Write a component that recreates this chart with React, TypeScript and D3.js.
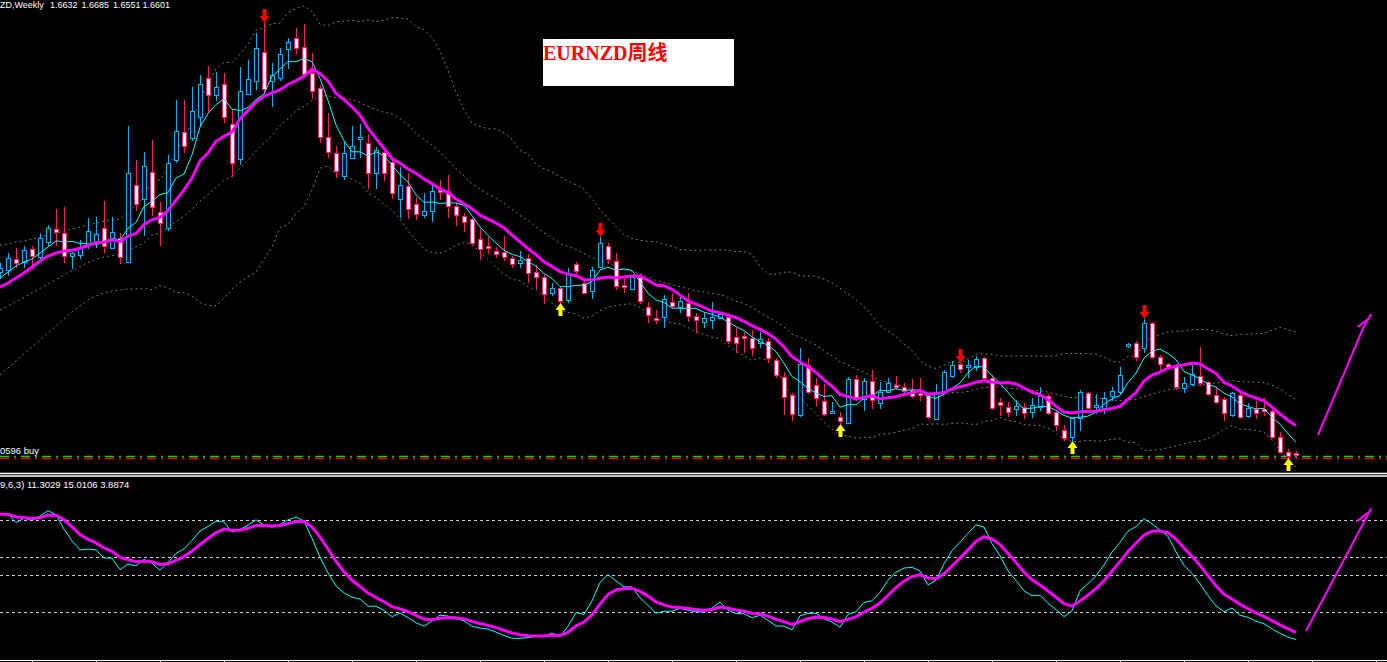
import React, { useEffect, useRef } from 'react';
import * as d3 from 'd3';

// weekly candles, EURNZD
const opens = [
  2.026, 2.03, 2.052, 2.046, 2.072, 2.056, 2.086, 2.112, 2.104, 2.058,
  2.06, 2.08, 2.084, 2.114, 2.074, 2.094, 2.046, 2.2, 2.172, 2.226,
  2.146, 2.114, 2.25, 2.306, 2.294, 2.336, 2.414, 2.38, 2.402, 2.322,
  2.252, 2.382, 2.408, 2.466, 2.408, 2.414, 2.472, 2.494, 2.476, 2.424,
  2.394, 2.296, 2.264, 2.218, 2.254, 2.292, 2.284, 2.224, 2.266, 2.246,
  2.172, 2.198, 2.162, 2.14, 2.148, 2.19, 2.188, 2.158, 2.138, 2.132,
  2.092, 2.078, 2.068, 2.066, 2.054, 2.044, 2.054, 2.026, 2.016, 1.984,
  1.994, 1.97, 2.042, 2.004, 1.988, 2.036, 2.078, 2.048, 2.0, 1.992,
  2.016, 1.956, 1.934, 1.936, 1.966, 1.956, 1.964, 1.938, 1.926, 1.93,
  1.934, 1.936, 1.896, 1.898, 1.894, 1.884, 1.888, 1.85, 1.816, 1.78,
  1.74, 1.84, 1.8, 1.768, 1.744, 1.736, 1.724, 1.812, 1.772, 1.808,
  1.764, 1.786, 1.8, 1.796, 1.79, 1.784, 1.78, 1.732, 1.786, 1.818,
  1.842, 1.836, 1.836, 1.854, 1.814, 1.766, 1.756, 1.752, 1.756, 1.746,
  1.756, 1.778, 1.746, 1.71, 1.696, 1.734, 1.784, 1.756, 1.754, 1.778,
  1.786, 1.878, 1.884, 1.874, 1.924, 1.856, 1.842, 1.838, 1.794, 1.802,
  1.818, 1.806, 1.78, 1.772, 1.74, 1.78, 1.738, 1.752, 1.752, 1.748,
  1.696, 1.666, 1.6632,
];
const highs = [
  2.044, 2.064, 2.074, 2.078, 2.078, 2.104, 2.12, 2.152, 2.156, 2.066,
  2.09, 2.134, 2.136, 2.168, 2.136, 2.104, 2.318, 2.25, 2.266, 2.29,
  2.166, 2.26, 2.37, 2.37, 2.396, 2.42, 2.438, 2.426, 2.424, 2.35,
  2.436, 2.45, 2.504, 2.524, 2.444, 2.474, 2.494, 2.514, 2.522, 2.464,
  2.4, 2.344, 2.278, 2.286, 2.318, 2.322, 2.302, 2.276, 2.276, 2.256,
  2.236, 2.224, 2.176, 2.184, 2.204, 2.21, 2.22, 2.166, 2.144, 2.134,
  2.112, 2.096, 2.076, 2.098, 2.058, 2.068, 2.062, 2.04, 2.02, 2.004,
  1.996, 2.034, 2.046, 2.01, 2.036, 2.096, 2.084, 2.064, 2.016, 2.02,
  2.02, 1.966, 1.95, 1.98, 1.984, 1.976, 1.984, 1.944, 1.946, 1.966,
  1.944, 1.944, 1.914, 1.906, 1.91, 1.906, 1.894, 1.854, 1.826, 1.784,
  1.874, 1.854, 1.814, 1.802, 1.766, 1.746, 1.816, 1.82, 1.814, 1.83,
  1.806, 1.814, 1.818, 1.804, 1.812, 1.814, 1.784, 1.802, 1.83, 1.848,
  1.844, 1.85, 1.858, 1.856, 1.82, 1.774, 1.766, 1.77, 1.764, 1.774,
  1.796, 1.782, 1.75, 1.72, 1.736, 1.79, 1.786, 1.782, 1.786, 1.796,
  1.836, 1.884, 1.888, 1.932, 1.926, 1.86, 1.844, 1.842, 1.816, 1.84,
  1.876, 1.808, 1.796, 1.776, 1.786, 1.784, 1.764, 1.768, 1.774, 1.754,
  1.706, 1.672, 1.6685,
];
const lows = [
  2.014, 2.02, 2.036, 2.036, 2.032, 2.05, 2.08, 2.08, 2.046, 2.034,
  2.054, 2.074, 2.076, 2.066, 2.074, 2.044, 2.046, 2.15, 2.1, 2.14,
  2.08, 2.11, 2.246, 2.266, 2.29, 2.32, 2.346, 2.37, 2.326, 2.218,
  2.242, 2.382, 2.392, 2.384, 2.358, 2.41, 2.434, 2.464, 2.42, 2.374,
  2.286, 2.256, 2.216, 2.212, 2.254, 2.256, 2.194, 2.194, 2.21, 2.174,
  2.136, 2.134, 2.132, 2.136, 2.128, 2.172, 2.136, 2.12, 2.108, 2.08,
  2.052, 2.064, 2.056, 2.05, 2.036, 2.036, 2.006, 1.994, 1.964, 1.98,
  1.966, 1.966, 2.024, 1.984, 1.974, 2.036, 2.044, 1.992, 1.986, 1.992,
  1.964, 1.926, 1.924, 1.916, 1.954, 1.946, 1.928, 1.906, 1.916, 1.914,
  1.934, 1.884, 1.866, 1.866, 1.86, 1.876, 1.846, 1.816, 1.742, 1.73,
  1.738, 1.784, 1.76, 1.74, 1.744, 1.724, 1.724, 1.77, 1.75, 1.754,
  1.754, 1.786, 1.792, 1.784, 1.776, 1.77, 1.734, 1.732, 1.784, 1.816,
  1.826, 1.816, 1.83, 1.81, 1.752, 1.74, 1.738, 1.74, 1.734, 1.736,
  1.75, 1.742, 1.71, 1.69, 1.69, 1.71, 1.754, 1.744, 1.744, 1.77,
  1.784, 1.876, 1.85, 1.866, 1.854, 1.832, 1.832, 1.792, 1.786, 1.8,
  1.8, 1.78, 1.764, 1.73, 1.738, 1.734, 1.736, 1.734, 1.74, 1.694,
  1.664, 1.656, 1.6551,
];
const closes = [
  2.034, 2.054, 2.044, 2.07, 2.058, 2.094, 2.114, 2.106, 2.058, 2.064,
  2.074, 2.108, 2.102, 2.078, 2.106, 2.056, 2.224, 2.162, 2.238, 2.156,
  2.124, 2.244, 2.308, 2.278, 2.348, 2.402, 2.38, 2.396, 2.336, 2.244,
  2.388, 2.412, 2.474, 2.392, 2.42, 2.462, 2.486, 2.474, 2.422, 2.388,
  2.296, 2.266, 2.228, 2.264, 2.278, 2.296, 2.224, 2.27, 2.224, 2.184,
  2.2, 2.152, 2.142, 2.148, 2.188, 2.186, 2.158, 2.14, 2.126, 2.084,
  2.072, 2.074, 2.062, 2.056, 2.042, 2.05, 2.024, 2.016, 1.982, 1.994,
  1.968, 2.024, 2.028, 1.984, 2.03, 2.084, 2.052, 1.998, 1.996, 2.016,
  1.968, 1.94, 1.93, 1.972, 1.958, 1.968, 1.938, 1.93, 1.934, 1.936,
  1.942, 1.888, 1.884, 1.894, 1.874, 1.892, 1.854, 1.82, 1.776, 1.742,
  1.842, 1.786, 1.774, 1.742, 1.748, 1.728, 1.812, 1.772, 1.808, 1.77,
  1.786, 1.804, 1.796, 1.788, 1.778, 1.78, 1.736, 1.786, 1.826, 1.84,
  1.832, 1.84, 1.852, 1.814, 1.754, 1.76, 1.746, 1.758, 1.744, 1.76,
  1.778, 1.744, 1.72, 1.694, 1.734, 1.786, 1.754, 1.76, 1.774, 1.788,
  1.82, 1.882, 1.856, 1.924, 1.856, 1.842, 1.836, 1.796, 1.804, 1.822,
  1.804, 1.782, 1.766, 1.744, 1.784, 1.736, 1.754, 1.744, 1.748, 1.696,
  1.666, 1.658, 1.6601,
];

// indicator values at the left edge, where the history is off-chart
const fastMaHead = [2.014, 2.026, 2.038, 2.046];
const slowMaHead = [1.996, 2.004, 2.014, 2.024, 2.036, 2.048, 2.058, 2.064, 2.068];
const bandUpperHead = [
  2.08, 2.082, 2.086, 2.088, 2.092, 2.096, 2.1, 2.104, 2.108, 2.112,
  2.116, 2.12, 2.124, 2.128, 2.13, 2.132, 2.146, 2.16, 2.176,
];
const bandMidHead = [
  1.95, 1.958, 1.967, 1.975, 1.984, 1.993, 2.002, 2.011, 2.02, 2.029,
  2.037, 2.045, 2.051, 2.056, 2.059, 2.061, 2.069, 2.076, 2.085,
];
const bandLowerHead = [
  1.82, 1.834, 1.848, 1.862, 1.876, 1.89, 1.904, 1.918, 1.932, 1.946,
  1.958, 1.97, 1.978, 1.984, 1.988, 1.99, 1.992, 1.992, 1.994,
];

// signal arrows (bar index)
const sellArrowBars = [33, 75, 120, 143];
const buyArrowBars = [70, 105, 134, 161];

// horizontal order lines
const buyLevel = 1.658;
const stopLevel = 1.653;

// hand-drawn projection strokes on the right: [bar, value]
const priceStroke: [number, number][] = [[164.75, 1.7], [170.5, 1.918], [171.4, 1.942]];
const priceHook: [number, number][] = [[169.7, 1.916], [171.0, 1.932]];
const kdjStroke: [number, number][] = [[163.25, 14.9], [171.4, 81.1]];
const kdjHook: [number, number][] = [[169.6, 74.1], [171.1, 79.1]];

const kdjLevels = [75, 55, 45, 25];
const kdjN = 9;
const kdjM1 = 6;
const kdjM2 = 3;
const kdjStart = [80, 78];

const headerNums = ['1.6632', '1.6685', '1.6551', '1.6601'];
const headerNumX = [50, 81.5, 113, 142.5];
const kdjLabel = '9,6,3) 11.3029 15.0106 3.8874';

const W = 1387;
const H = 662;

const sma = (arr: number[], n: number, head: number[]) =>
  arr.map((_, i) =>
    i < head.length ? head[i] : (d3.mean(arr.slice(i - n + 1, i + 1)) as number),
  );

const App = () => {
  const ref = useRef<SVGSVGElement>(null);

  useEffect(() => {
    const svg = d3.select(ref.current);
    svg.selectAll('*').remove();

    const x = d3.scaleLinear().domain([0, 162]).range([0, 1296]);
    const y = d3.scaleLinear().domain([2.57, 1.63]).range([0, 470]);
    const yk = d3.scaleLinear().domain([0, 100]).range([658.5, 473.5]);
    const px = (i: number) => Math.round(x(i)) + 0.5;

    svg.append('rect').attr('width', W).attr('height', H).attr('fill', '#000');

    const main = svg.append('g');

    // bollinger 20,2
    const mid = closes.map((_, i) =>
      i < 19 ? bandMidHead[i] : (d3.mean(closes.slice(i - 19, i + 1)) as number),
    );
    const dev = closes.map((_, i) =>
      i < 19 ? 0 : (d3.deviation(closes.slice(i - 19, i + 1)) as number) * Math.sqrt(19 / 20),
    );
    const upper = mid.map((m, i) => (i < 19 ? bandUpperHead[i] : m + 2 * dev[i]));
    const lower = mid.map((m, i) => (i < 19 ? bandLowerHead[i] : m - 2 * dev[i]));

    const bandLine = d3
      .line<number>()
      .x((_, i) => x(i))
      .y((d) => y(d));
    [upper, mid, lower].forEach((b) => {
      main
        .append('path')
        .attr('d', bandLine(b))
        .attr('fill', 'none')
        .attr('stroke', '#6f7c86')
        .attr('stroke-width', 1)
        .attr('stroke-dasharray', '2,3');
    });

    // order lines
    [
      [buyLevel, '#00e000'],
      [stopLevel, '#ff0000'],
    ].forEach(([lv, col]) => {
      const yy = Math.round(y(lv as number)) + 0.5;
      main
        .append('line')
        .attr('x1', 0)
        .attr('x2', W)
        .attr('y1', yy)
        .attr('y2', yy)
        .attr('stroke', col as string)
        .attr('stroke-width', 1.5)
        .attr('stroke-dasharray', '9,5,2,5');
    });

    // wicks
    closes.forEach((c, i) => {
      const bull = c >= opens[i];
      main
        .append('line')
        .attr('x1', px(i))
        .attr('x2', px(i))
        .attr('y1', Math.round(y(highs[i])))
        .attr('y2', Math.round(y(lows[i])) + 1)
        .attr('stroke', bull ? '#00b4ff' : '#ff1a6e')
        .attr('stroke-width', 1);
    });

    // bodies
    closes.forEach((c, i) => {
      const o = opens[i];
      const bull = c >= o;
      const top = Math.round(y(Math.max(o, c)));
      const bot = Math.round(y(Math.min(o, c)));
      const color = bull ? '#00b4ff' : '#ff1a6e';
      if (bot - top < 2) {
        main
          .append('line')
          .attr('x1', px(i) - 2.5)
          .attr('x2', px(i) + 2.5)
          .attr('y1', top + 0.5)
          .attr('y2', top + 0.5)
          .attr('stroke', color)
          .attr('stroke-width', 1.5);
        return;
      }
      main
        .append('rect')
        .attr('x', px(i) - 2)
        .attr('y', top + 0.5)
        .attr('width', 4)
        .attr('height', bot - top)
        .attr('fill', bull ? '#000' : '#fff')
        .attr('stroke', color)
        .attr('stroke-width', 1);
    });

    // moving averages
    const maLine = d3
      .line<number>()
      .x((_, i) => x(i))
      .y((d) => y(d));
    main
      .append('path')
      .attr('d', maLine(sma(closes, 5, fastMaHead)))
      .attr('fill', 'none')
      .attr('stroke', '#00ffff')
      .attr('stroke-width', 1);
    main
      .append('path')
      .attr('d', maLine(sma(closes, 10, slowMaHead)))
      .attr('fill', 'none')
      .attr('stroke', '#ff00ff')
      .attr('stroke-width', 3);

    // arrows
    sellArrowBars.forEach((b) => {
      const cx = px(b);
      const ty = y(highs[b]);
      main
        .append('path')
        .attr(
          'd',
          `M${cx - 2},${ty - 14}H${cx + 2}V${ty - 7}H${cx + 5}L${cx},${ty}L${cx - 5},${ty - 7}H${cx - 2}Z`,
        )
        .attr('fill', '#ff0000');
    });
    buyArrowBars.forEach((b) => {
      const cx = px(b);
      const ty = y(lows[b]) + 1;
      main
        .append('path')
        .attr(
          'd',
          `M${cx},${ty}L${cx + 5},${ty + 7}H${cx + 2}V${ty + 13}H${cx - 2}V${ty + 7}H${cx - 5}Z`,
        )
        .attr('fill', '#ffff00');
    });

    // projection strokes
    const pLine = d3
      .line<[number, number]>()
      .x((d) => x(d[0]))
      .y((d) => y(d[1]));
    [priceStroke, priceHook].forEach((p) =>
      main
        .append('path')
        .attr('d', pLine(p))
        .attr('fill', 'none')
        .attr('stroke', '#ff00ff')
        .attr('stroke-width', 2),
    );

    // header texts
    const header = main
      .append('text')
      .attr('y', 8)
      .attr('fill', '#fff')
      .attr('font-family', 'Liberation Sans, Arial, sans-serif')
      .attr('font-size', 9);
    header.append('tspan').attr('x', 0).text('ZD,Weekly');
    headerNums.forEach((t, i) => header.append('tspan').attr('x', headerNumX[i]).text(t));

    main
      .append('text')
      .attr('x', 0)
      .attr('y', 454)
      .attr('fill', '#fff')
      .attr('font-family', 'Liberation Sans, Arial, sans-serif')
      .attr('font-size', 9.5)
      .text('0596 buy');

    // title box
    svg.append('rect').attr('x', 543).attr('y', 39).attr('width', 191).attr('height', 47).attr('fill', '#fff');
    svg
      .append('text')
      .attr('x', 543)
      .attr('y', 60)
      .attr('fill', '#ff0000')
      .attr('font-family', 'Liberation Serif, Noto Sans CJK SC, serif')
      .attr('font-weight', 'bold')
      .attr('font-size', 20)
      .text('EURNZD周线');

    // separator
    [473.5, 476].forEach((yy) =>
      svg
        .append('line')
        .attr('x1', 0)
        .attr('x2', W)
        .attr('y1', yy)
        .attr('y2', yy)
        .attr('stroke', '#fff')
        .attr('stroke-width', 1.3),
    );

    // KDJ pane
    const sub = svg.append('g');
    kdjLevels.forEach((l) =>
      sub
        .append('line')
        .attr('x1', 0)
        .attr('x2', W)
        .attr('y1', Math.round(yk(l)) + 0.5)
        .attr('y2', Math.round(yk(l)) + 0.5)
        .attr('stroke', '#d0d0d0')
        .attr('stroke-width', 1)
        .attr('stroke-dasharray', '3,3'),
    );

    const kArr: number[] = [];
    const dArr: number[] = [];
    let k = kdjStart[0];
    let dd = kdjStart[1];
    closes.forEach((c, i) => {
      const s = Math.max(0, i - kdjN + 1);
      const hh = d3.max(highs.slice(s, i + 1)) as number;
      const ll = d3.min(lows.slice(s, i + 1)) as number;
      const rsv = hh === ll ? 50 : ((c - ll) / (hh - ll)) * 100;
      k = (rsv + (kdjM1 - 1) * k) / kdjM1;
      dd = (k + (kdjM2 - 1) * dd) / kdjM2;
      kArr.push(k);
      dArr.push(dd);
    });
    const kLine = d3
      .line<number>()
      .x((_, i) => x(i))
      .y((d) => yk(d));
    sub
      .append('path')
      .attr('d', kLine(kArr))
      .attr('fill', 'none')
      .attr('stroke', '#00ffff')
      .attr('stroke-width', 1);
    sub
      .append('path')
      .attr('d', kLine(dArr))
      .attr('fill', 'none')
      .attr('stroke', '#ff00ff')
      .attr('stroke-width', 3);

    const kpLine = d3
      .line<[number, number]>()
      .x((d) => x(d[0]))
      .y((d) => yk(d[1]));
    [kdjStroke, kdjHook].forEach((p) =>
      sub
        .append('path')
        .attr('d', kpLine(p))
        .attr('fill', 'none')
        .attr('stroke', '#ff00ff')
        .attr('stroke-width', 2),
    );

    sub
      .append('text')
      .attr('x', 0)
      .attr('y', 488)
      .attr('fill', '#fff')
      .attr('font-family', 'Liberation Sans, Arial, sans-serif')
      .attr('font-size', 9.5)
      .text(kdjLabel);

    // time axis
    svg
      .append('line')
      .attr('x1', 0)
      .attr('x2', W)
      .attr('y1', 660.5)
      .attr('y2', 660.5)
      .attr('stroke', '#fff');
    d3.range(32, W, 64).forEach((tx) =>
      svg
        .append('line')
        .attr('x1', tx + 0.5)
        .attr('x2', tx + 0.5)
        .attr('y1', 660)
        .attr('y2', 662)
        .attr('stroke', '#fff'),
    );
  }, []);

  return (
    <svg
      ref={ref}
      width={W}
      height={H}
      style={{ position: 'absolute', left: 0, top: 0, display: 'block' }}
    />
  );
};

export default App;
